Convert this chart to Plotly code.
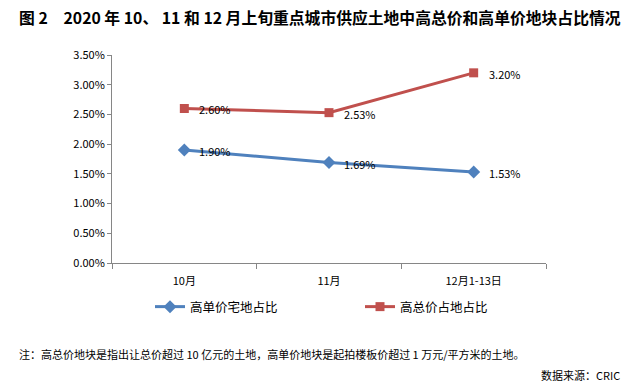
import plotly.graph_objects as go

categories = ["10月", "11月", "12月1-13日"]
unit_price_share = [0.0190, 0.0169, 0.0153]
total_price_share = [0.0260, 0.0253, 0.0320]
series_names = ["高单价宅地占比", "高总价占地占比"]
y_ticks = [0, 0.005, 0.01, 0.015, 0.02, 0.025, 0.03, 0.035]

title_text = "图 2　2020 年 10、 11 和 12 月上旬重点城市供应土地中高总价和高单价地块占比情况"
note_text = "注：高总价地块是指出让总价超过 10 亿元的土地，高单价地块是起拍楼板价超过 1 万元/平方米的土地。"
source_text = "数据来源：CRIC"

W, H = 637, 385
L, R, T, B = 112, 546, 55, 263

font_main = "Noto Sans CJK SC, Noto Sans, sans-serif"

xs = list(range(len(categories)))

fig = go.Figure()
fig.add_trace(go.Scatter(
    x=xs, y=unit_price_share, name=series_names[0], mode="lines+markers",
    line=dict(color="#4F81BD", width=3),
    marker=dict(symbol="diamond", size=10, color="#4F81BD"),
))
fig.add_trace(go.Scatter(
    x=xs, y=total_price_share, name=series_names[1], mode="lines+markers",
    line=dict(color="#C0504D", width=3),
    marker=dict(symbol="square", size=9, color="#C0504D"),
))

annotations = []
for series in (unit_price_share, total_price_share):
    for xv, yv in zip(xs, series):
        annotations.append(dict(
            x=xv, y=yv, xref="x", yref="y", text=f"{yv*100:.2f}%",
            xanchor="left", yanchor="middle", xshift=13, yshift=-1, showarrow=False,
            font=dict(size=11, family=font_main, color="#000"),
        ))

annotations += [
    dict(text=title_text, xref="paper", yref="paper", x=(17 - L) / (R - L), xanchor="left",
         y=(B - 18) / (B - T), yanchor="middle", showarrow=False,
         font=dict(size=15.8, family=font_main, color="#000", weight="bold")),
    dict(text=note_text, xref="paper", yref="paper", x=(17 - L) / (R - L), xanchor="left",
         y=(B - 354) / (B - T), yanchor="middle", showarrow=False,
         font=dict(size=11, family=font_main, color="#000")),
    dict(text=source_text, xref="paper", yref="paper", x=(622 - L) / (R - L), xanchor="right",
         y=(B - 375) / (B - T), yanchor="middle", showarrow=False,
         font=dict(size=11, family=font_main, color="#000")),
]

fig.update_layout(
    width=W, height=H,
    margin=dict(l=L, r=W - R, t=T, b=H - B, pad=0, autoexpand=False),
    paper_bgcolor="white", plot_bgcolor="white",
    font=dict(family=font_main, size=11, color="#000"),
    showlegend=True,
    legend=dict(orientation="h", xref="container", x=150 / W, xanchor="left",
                yref="container", y=1 - 307 / H, yanchor="middle",
                entrywidth=165, entrywidthmode="pixels",
                font=dict(size=12.5), itemwidth=30, bgcolor="rgba(0,0,0,0)"),
    xaxis=dict(range=[-0.5, 2.5], tickmode="array", tickvals=xs, ticktext=categories,
               automargin=False,
               showgrid=False, zeroline=False, showline=True, linecolor="#868686", linewidth=1,
               ticks="", ticklabelstandoff=8, tickfont=dict(size=11),
               minor=dict(tickmode="array", tickvals=[-0.5, 0.5, 1.5, 2.5], ticks="outside",
                          ticklen=5, tickcolor="#868686", showgrid=False)),
    yaxis=dict(range=[0, 0.035], tickmode="array", tickvals=y_ticks,
               automargin=False,
               ticktext=[f"{v*100:.2f}%" for v in y_ticks],
               showgrid=False, zeroline=False, showline=True, linecolor="#868686", linewidth=1,
               ticks="outside", ticklen=4, tickcolor="#868686", tickfont=dict(size=11)),
    annotations=annotations,
)

fig.write_html("out.html", config={"displayModeBar": False},
               post_script="document.body.style.margin='0px';")
